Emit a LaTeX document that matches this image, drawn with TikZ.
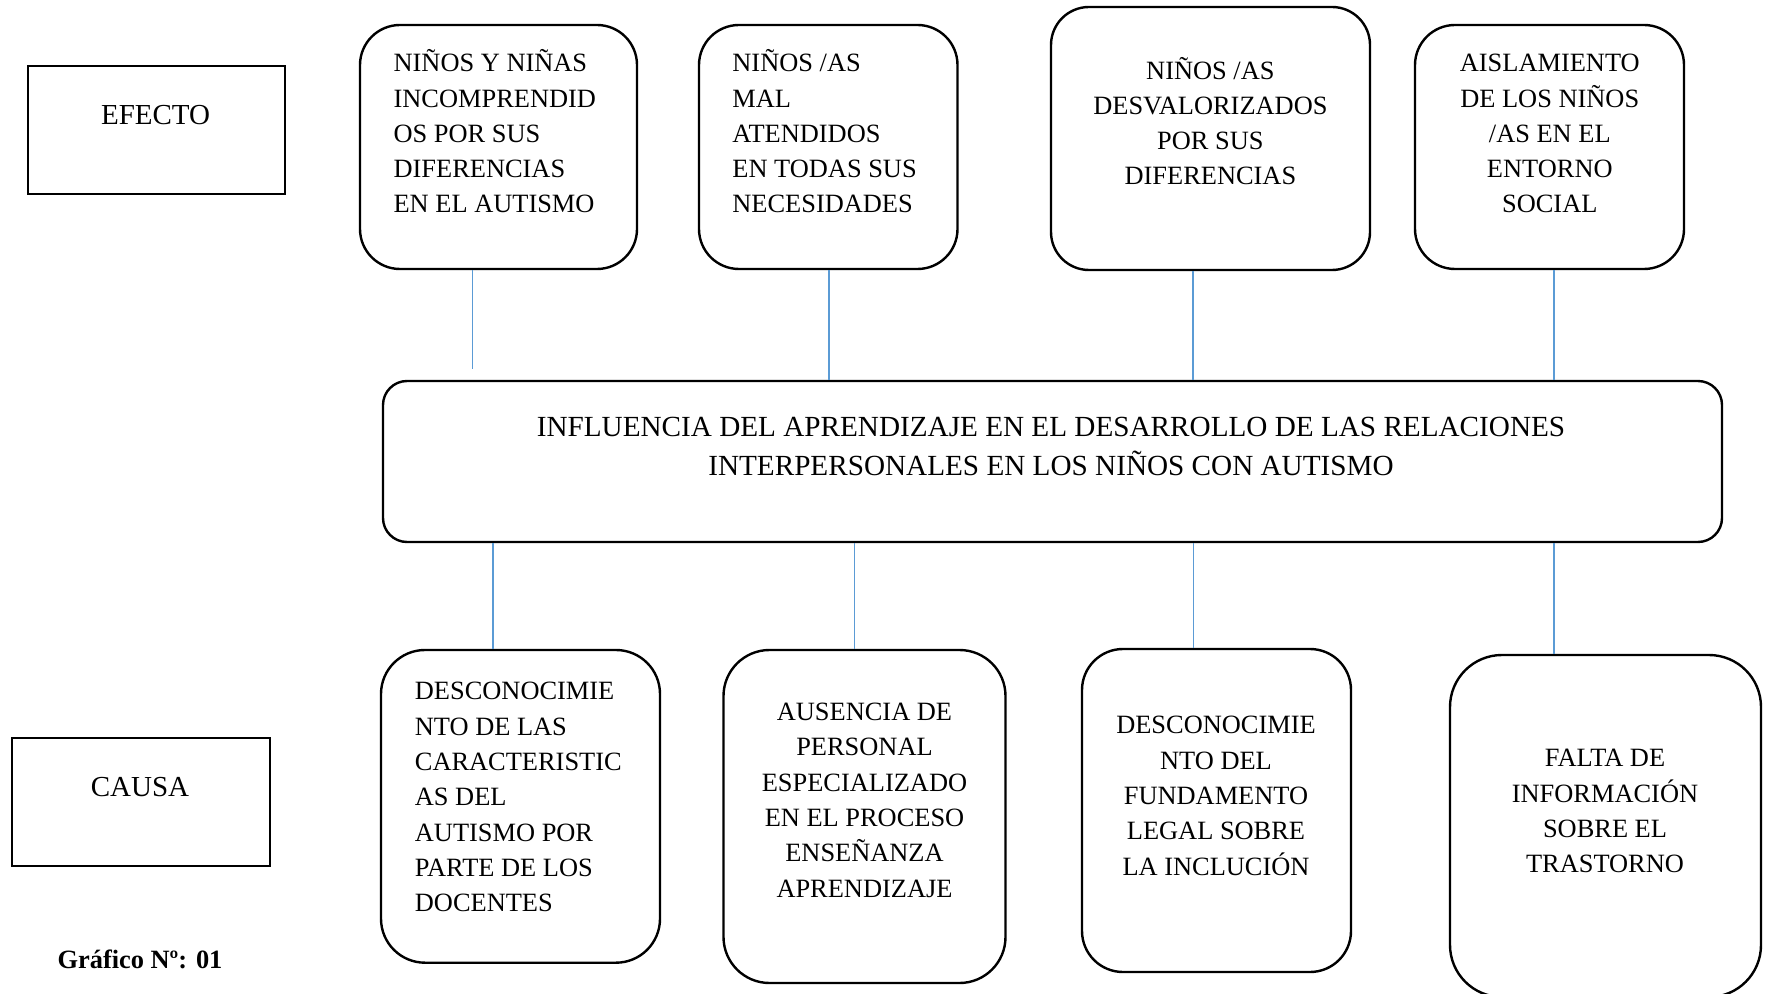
\documentclass[tikz,border=0pt]{standalone}
\usepackage{fontspec}
\setmainfont{Liberation Serif}
\usetikzlibrary{fit}
\definecolor{connblue}{RGB}{91,155,213}
\tikzset{
  rbox/.style={draw=black, line width=1.2pt, inner sep=0pt, rounded corners=#1},
  sbox/.style={draw=black, line width=1pt, inner sep=0pt},
  conn/.style={draw=connblue, line width=0.55pt},
  toptxt/.style={inner sep=0pt, font=\fontsize{13.2}{17.6}\selectfont},
  bottxt/.style={inner sep=0pt, font=\fontsize{13.2}{17.65}\selectfont},
  maintxt/.style={inner sep=0pt, font=\fontsize{14.6}{19.2}\selectfont, align=center},
  labtxt/.style={inner sep=0pt, font=\fontsize{14.5}{17}\selectfont},
}
\begin{document}
\begin{tikzpicture}[x=0.5pt,y=-0.5pt]
\clip (0,0) rectangle (1767,994);
\fill[white] (0,0) rectangle (1767,994);

% labels
\node[sbox, fit={(27.6,66) (284.7,194)}] (efecto) {};
\node[labtxt, anchor=base] (efectotxt) at (155.6,125) {EFECTO};
\node[sbox, fit={(11.5,738) (270,866)}] (causa) {};
\node[labtxt, anchor=base] (causatxt) at (140,796.7) {CAUSA};
\node[inner sep=0pt, font=\bfseries\fontsize{13.2}{16}\selectfont, anchor=base] (grafico) at (140,968.3) {Gráfico Nº: 01};

% effects (anchor = baseline of the last line)
\node[rbox=20pt, fit={(360,25) (637,269)}] (A) {};
\node[toptxt, align=left, anchor=base west] (Atxt) at (393.2,212.7) {NIÑOS Y NIÑAS\\INCOMPRENDID\\OS POR SUS\\DIFERENCIAS\\EN EL AUTISMO};
\node[rbox=20pt, fit={(699,25) (957.5,269)}] (B) {};
\node[toptxt, align=left, anchor=base west] (Btxt) at (732,212.7) {NIÑOS /AS\\MAL\\ATENDIDOS\\EN TODAS SUS\\NECESIDADES};
\node[rbox=19pt, fit={(1051,7) (1370,270)}] (C) {};
\node[toptxt, align=center, anchor=base] (Ctxt) at (1210.4,185) {NIÑOS /AS\\DESVALORIZADOS\\POR SUS\\DIFERENCIAS};
\node[rbox=20pt, fit={(1415,25) (1684,269)}] (D) {};
\node[toptxt, align=center, anchor=base] (Dtxt) at (1549.8,212.7) {AISLAMIENTO\\DE LOS NIÑOS\\/AS EN EL\\ENTORNO\\SOCIAL};

% main problem
\node[rbox=12pt, fit={(383,381) (1722,542)}] (M) {};
\node[maintxt, anchor=base] (Mtxt) at (1051,475) {INFLUENCIA DEL APRENDIZAJE EN EL DESARROLLO DE LAS RELACIONES\\INTERPERSONALES EN LOS NIÑOS CON AUTISMO};

% causes
\node[rbox=22pt, fit={(381,650) (660,962.7)}] (E) {};
\node[bottxt, align=left, anchor=base west] (Etxt) at (414.5,911.7) {DESCONOCIMIE\\NTO DE LAS\\CARACTERISTIC\\AS DEL\\AUTISMO POR\\PARTE DE LOS\\DOCENTES};
\node[rbox=23pt, fit={(723.5,650) (1005.5,983)}] (F) {};
\node[bottxt, align=center, anchor=base] (Ftxt) at (864.5,897) {AUSENCIA DE\\PERSONAL\\ESPECIALIZADO\\EN EL PROCESO\\ENSEÑANZA\\APRENDIZAJE};
\node[rbox=20.5pt, fit={(1082,649) (1351,972)}] (G) {};
\node[bottxt, align=center, anchor=base] (Gtxt) at (1216,875) {DESCONOCIMIE\\NTO DEL\\FUNDAMENTO\\LEGAL SOBRE\\LA INCLUCIÓN};
\node[rbox=26pt, fit={(1450,655) (1761,997)}] (H) {};
\node[bottxt, align=center, anchor=base] (Htxt) at (1605,872.7) {FALTA DE\\INFORMACIÓN\\SOBRE EL\\TRASTORNO};

% connectors
\coordinate (t1) at (472.4,369);
\coordinate (t2) at (829,0);
\coordinate (t3) at (1193,0);
\coordinate (t4) at (1554,0);
\coordinate (b1) at (493,0);
\coordinate (b2) at (854.5,0);
\coordinate (b3) at (1193.5,0);
\coordinate (b4) at (1554,0);
\draw[conn] (A.south -| t1) -- (t1);
\draw[conn] (B.south -| t2) -- (M.north -| t2);
\draw[conn] (C.south -| t3) -- (M.north -| t3);
\draw[conn] (D.south -| t4) -- (M.north -| t4);
\draw[conn] (M.south -| b1) -- (E.north -| b1);
\draw[conn] (M.south -| b2) -- (F.north -| b2);
\draw[conn] (M.south -| b3) -- (G.north -| b3);
\draw[conn] (M.south -| b4) -- (H.north -| b4);
\end{tikzpicture}
\end{document}
